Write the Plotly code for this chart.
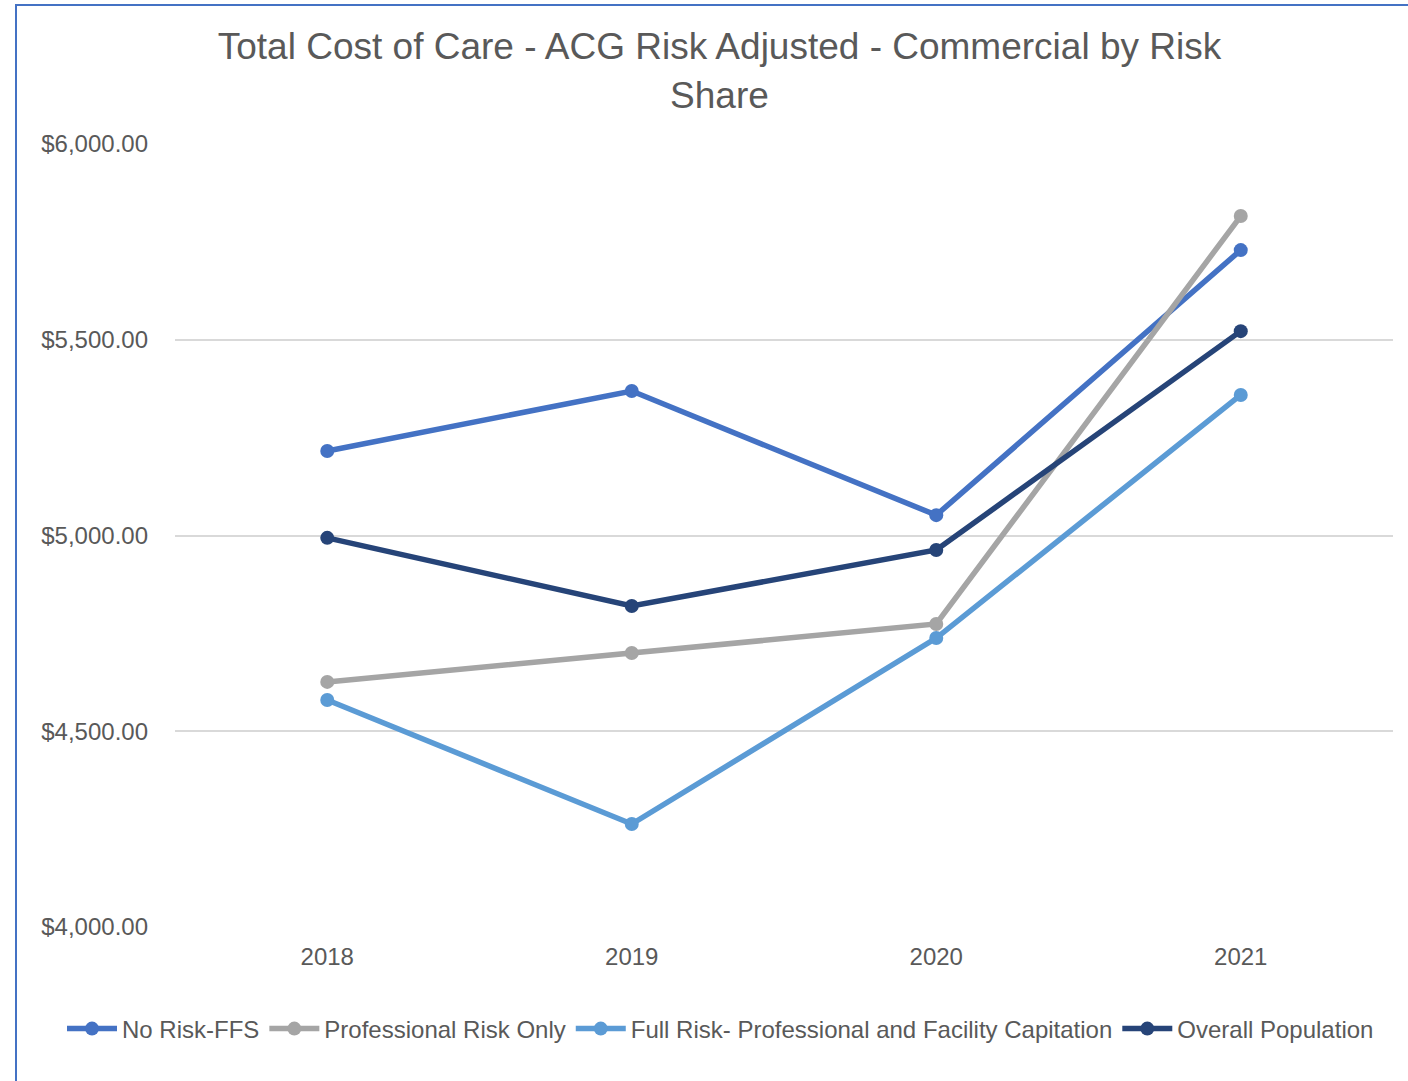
import plotly.graph_objects as go

years = ["2018", "2019", "2020", "2021"]
no_risk_ffs = [5216, 5369, 5052, 5729]
professional_risk_only = [4626, 4700, 4774, 5816]
full_risk = [4580, 4263, 4738, 5359]
overall_population = [4994, 4820, 4963, 5522]

series = [
    ("No Risk-FFS", no_risk_ffs, "#4472C4"),
    ("Professional Risk Only", professional_risk_only, "#A5A5A5"),
    ("Full Risk- Professional and Facility Capitation", full_risk, "#5B9BD5"),
    ("Overall Population", overall_population, "#264478"),
]

fig = go.Figure()
for name, vals, color in series:
    fig.add_trace(go.Scatter(
        x=years, y=vals, name=name, mode="lines+markers",
        line=dict(color=color, width=5.5),
        marker=dict(color=color, size=14),
    ))

fig.update_layout(
    width=1408, height=1081,
    margin=dict(l=175, r=15, t=144, b=154, autoexpand=False),
    paper_bgcolor="white", plot_bgcolor="white",
    font=dict(family="Liberation Sans, Arial, sans-serif", color="#595959"),
    title=dict(
        text="Total Cost of Care - ACG Risk Adjusted - Commercial by Risk<br>Share",
        x=0.511, xanchor="center", xref="container",
        y=0.945, yanchor="top", yref="container",
        font=dict(size=37, color="#595959"),
    ),
    xaxis=dict(
        type="category", range=[-0.5, 3.5], showgrid=False, zeroline=False,
        showline=False, ticks="", tickfont=dict(size=24, color="#595959"),
        ticklabelstandoff=13,
    ),
    yaxis=dict(
        range=[4000, 6000], tickvals=[4000, 4500, 5000, 5500, 6000],
        tickformat="$,.2f", showgrid=True, gridcolor="#D9D9D9", gridwidth=1.5,
        zeroline=False, showline=False, ticks="",
        tickfont=dict(size=24, color="#595959"), ticklabelstandoff=26,
    ),
    legend=dict(
        orientation="h", xref="paper", yref="paper",
        x=(62 - 175) / 1218, xanchor="left",
        y=(927 - 1029) / 783, yanchor="middle",
        font=dict(size=24, color="#595959"), itemwidth=50,
        tracegroupgap=0,
    ),
    hovermode=False,
    showlegend=True,
)

fig.add_shape(
    type="rect", xref="paper", yref="paper",
    x0=(16 - 175) / 1218, x1=(1430 - 175) / 1218,
    y0=(927 - 1100) / 783, y1=(927 - 5) / 783,
    line=dict(color="#4472C4", width=2), fillcolor="rgba(0,0,0,0)",
    layer="above",
)

fig.write_html("out.html")
